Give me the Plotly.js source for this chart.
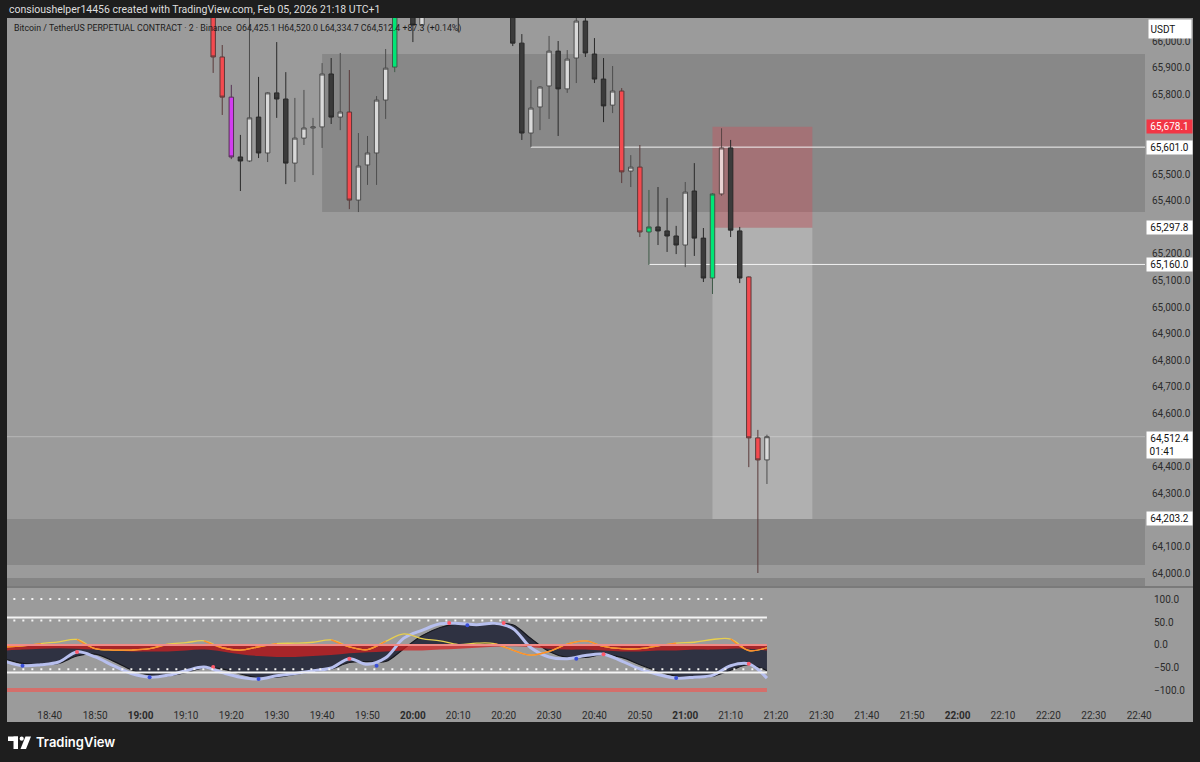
<!DOCTYPE html>
<html><head><meta charset="utf-8">
<script src="https://cdn.plot.ly/plotly-3.0.1.min.js"></script>
<style>html,body{margin:0;padding:0;background:#1e1e1e;}#chart{width:1200px;height:762px;}</style>
</head><body><div id="chart"></div>
<script>
// ---------- DATA ----------
const day = '2026-02-05 ';
const barTimes = ['19:16','19:18','19:20','19:22','19:24','19:26','19:28','19:30','19:32','19:34','19:36','19:38','19:40','19:42','19:44','19:46','19:48','19:50','19:52','19:54','19:56','20:00','20:02','20:10','20:22','20:24','20:26','20:28','20:30','20:32','20:34','20:36','20:38','20:40','20:42','20:44','20:46','20:48','20:50','20:52','20:54','20:56','20:58','21:00','21:02','21:04','21:06','21:08','21:10','21:12','21:14','21:16','21:18'];
const opens  = [66150,65940,65789,65564,65549,65714,65579,65805,65782,65541,65635,65673,65677,65876,65714,65733,65402,65534,65579,65778,65902,66180,66060,66200,66150,65992,65654,65752,65831,65962,65820,65936,66075,65951,65857,65759,65812,65511,65526,65282,65301,65286,65267,65233,65436,65259,65109,65425,65598,65286,65113,64508,64425.1];
const highs  = [66180,65985,65835,65647,66120,65865,65808,65996,65883,65786,65816,65711,65917,65936,65955,65891,65654,65643,65793,65970,66200,66220,66180,66250,66200,66026,65853,65830,66019,66000,65966,66110,66100,66011,65936,65906,65823,65571,65609,65440,65451,65410,65305,65470,65541,65297,65428,65672,65628,65301,65115,64538,64520.0];
const lows   = [65880,65722,65556,65436,65545,65560,65545,65711,65462,65470,65609,65496,65598,65688,65665,65368,65357,65459,65459,65707,65883,65996,66055,66034,65981,65628,65602,65665,65707,65643,65805,65842,65940,65842,65695,65729,65466,65451,65263,65158,65233,65207,65199,65150,65192,65094,65049,65418,65263,65090,64398,64000,64334.7];
const closes = [65940,65789,65564,65549,65711,65579,65805,65782,65541,65635,65673,65677,65876,65714,65733,65402,65530,65579,65778,65898,66160,66060,66150,66150,65992,65654,65748,65827,65962,65820,65932,66075,65955,65857,65756,65812,65508,65526,65282,65301,65286,65267,65233,65432,65259,65109,65425,65598,65289,65109,64508,64425.1,64512.4];
const barColorClass = ['red','red','magenta','dark','light','dark','light','dark','dark','light','light','light','light','dark','light','red','light','light','light','light','green','dark','light','dark','dark','dark','light','light','light','dark','light','light','dark','dark','dark','light','red','light','red','green','dark','dark','dark','light','dark','dark','green','pink','dark','dark','red','red','light'];

const symbolName = 'Bitcoin / TetherUS PERPETUAL CONTRACT · 2 · Binance';
const headerLine = 'consioushelper14456 created with TradingView.com, Feb 05, 2026 21:18 UTC+1';
const currency = 'USDT';
const countdown = '01:41';

// levels
const upperZone = {from:'19:40', low:65357, high:65951};
const lowerZone = {low:64030, high:64203.2};
const bottomZoneTop = 63981;
const stopLevel = 65678.1, entryLevel = 65297.8, targetLevel = 64203.2;
const positionStart = '21:06', positionEnd = '21:28';
const line1 = {from:'20:26', price:65601.0};
const line2 = {from:'20:52', price:65160.0};
const axisLabels = [65601.0, 65297.8, 65160.0, 64203.2];
const priceTicks = [64000,64100,64200,64300,64400,64500,64600,64700,64800,64900,65000,65100,65200,65300,65400,65500,65600,65700,65800,65900,66000];

// oscillator
const oscTimes = ['18:30','18:34','18:38','18:42','18:46','18:50','18:54','18:58','19:02','19:06','19:10','19:14','19:18','19:22','19:26','19:30','19:34','19:38','19:42','19:46','19:50','19:54','19:58','20:02','20:06','20:10','20:14','20:18','20:22','20:26','20:30','20:34','20:38','20:42','20:46','20:50','20:54','20:58','21:02','21:06','21:10','21:14','21:18'];
const wave1 = [-35,-45,-43,-37,-15,-26,-45,-62,-70,-66,-56,-48,-60,-70,-74,-67,-62,-56,-50,-30,-42,-28,15,32,46,47,44,47,36,-6,-26,-30,-23,-20,-35,-52,-64,-72,-70,-66,-45,-41,-72];
const wave2 = [-30,-40,-43,-40,-24,-20,-35,-54,-65,-67,-60,-50,-52,-63,-71,-70,-64,-58,-52,-38,-36,-36,-8,20,38,46,45,46,44,14,-14,-27,-27,-21,-27,-43,-57,-68,-71,-68,-55,-43,-56];
const moneyFlow = [-12,-10,-8,-7,-8,-10,-12,-14,-14,-14,-12,-10,-14,-20,-24,-26,-26,-24,-22,-18,-16,-14,-12,-12,-10,-8,-6,-4,-3,-5,-8,-10,-10,-12,-14,-14,-12,-12,-10,-10,-8,-8,-12];
const signal = [-4,-2,3,7,12,-8,-11,-11,-8,2,5,9,-6,-11,-4,3,4,6,11,-4,-10,8,24,14,9,1,4,3,-11,-22,-14,2,9,-3,-8,-8,-2,4,6,12,13,-12,-6];
const redDotTimes = ['18:46','19:16','19:46','20:08','20:20','20:42','21:14'];
const redDotVals  = [-15,-48,-30,48,48,-20,-41];
const blueDotTimes = ['18:34','19:02','19:26','19:52','20:12','20:36','20:58'];
const blueDotVals  = [-45,-70,-74,-45,43,-30,-72];
const oscLevelsDotted = [100, 53, -53];
const oscLevelsSolid = [60, -60];
const oscBand = -98;

const timeTickLabels = ['18:40','18:50','19:00','19:10','19:20','19:30','19:40','19:50','20:00','20:10','20:20','20:30','20:40','20:50','21:00','21:10','21:20','21:30','21:40','21:50','22:00','22:10','22:20','22:30','22:40'];

// ---------- GEOMETRY HELPERS ----------
const PL=7, PR=1145, PT=18, PB=700;
const px = x => (x-PL)/(PR-PL);
const py = y => (PB-y)/(PB-PT);
const T = s => day + s;
const fmt = v => v.toLocaleString('en-US',{minimumFractionDigits:1,maximumFractionDigits:1});
const FONT = 'Roboto, "Noto Sans", sans-serif';

// ---------- CANDLES ----------
const classStyle = {
  light:  {fill:'#d9d9d9', line:'#4d4d4d'},
  dark:   {fill:'#3b3b3b', line:'#2a2a2a'},
  red:    {fill:'#f44a4f', line:'#5a3a3a'},
  green:  {fill:'#00e676', line:'#3f5a48'},
  magenta:{fill:'#d23df0', line:'#553355'},
  pink:   {fill:'#e9d3d3', line:'#5a4545'}
};
const traces = [];
Object.keys(classStyle).forEach(c => {
  const idx = barColorClass.map((k,i)=>k===c?i:-1).filter(i=>i>=0);
  if (!idx.length) return;
  const st = classStyle[c];
  traces.push({
    type:'candlestick', xaxis:'x', yaxis:'y',
    x: idx.map(i=>T(barTimes[i])),
    open: idx.map(i=>opens[i]), high: idx.map(i=>highs[i]),
    low: idx.map(i=>lows[i]), close: idx.map(i=>closes[i]),
    increasing:{fillcolor:st.fill, line:{color:st.line, width:1}},
    decreasing:{fillcolor:st.fill, line:{color:st.line, width:1}},
    whiskerwidth:0, showlegend:false, hoverinfo:'skip'
  });
});

// ---------- OSCILLATOR ----------
const ox = oscTimes.map(T);
traces.push({type:'scatter', mode:'lines', xaxis:'x', yaxis:'y2', x:ox, y:wave2, fill:'tozeroy',
  fillcolor:'#2f3242', line:{color:'#17181e', width:1.2, shape:'spline'}, showlegend:false, hoverinfo:'skip'});
traces.push({type:'scatter', mode:'lines', xaxis:'x', yaxis:'y2', x:ox, y:moneyFlow, fill:'tozeroy',
  fillcolor:'rgba(214,32,32,0.72)', line:{color:'rgba(0,0,0,0)', width:0, shape:'spline'}, showlegend:false, hoverinfo:'skip'});
traces.push({type:'scatter', mode:'lines', xaxis:'x', yaxis:'y2', x:ox, y:wave1,
  line:{color:'#b7bfee', width:3, shape:'spline'}, showlegend:false, hoverinfo:'skip'});
traces.push({type:'scatter', mode:'lines', xaxis:'x', yaxis:'y2', x:ox, y:signal,
  line:{color:'#e8cf4e', width:1.3, shape:'spline'}, showlegend:false, hoverinfo:'skip'});
const sigNeg = signal.map((v,i)=> (v<0 || (i>0&&signal[i-1]<0) || (i<signal.length-1&&signal[i+1]<0)) ? v : null);
traces.push({type:'scatter', mode:'lines', xaxis:'x', yaxis:'y2', x:ox, y:sigNeg, connectgaps:false,
  line:{color:'#ff8a2a', width:1.3, shape:'spline'}, showlegend:false, hoverinfo:'skip'});
traces.push({type:'scatter', mode:'markers', xaxis:'x', yaxis:'y2', x:redDotTimes.map(T), y:redDotVals,
  marker:{color:'#ff5a6a', size:4}, showlegend:false, hoverinfo:'skip'});
traces.push({type:'scatter', mode:'markers', xaxis:'x', yaxis:'y2', x:blueDotTimes.map(T), y:blueDotVals,
  marker:{color:'#3a4fd8', size:4}, showlegend:false, hoverinfo:'skip'});

// ---------- SHAPES ----------
const farLeft = T('18:00'), farRight = '2026-02-05 23:30';
const oscStart = ox[0], oscEnd = ox[ox.length-1];
const shapes = [
  {type:'rect', xref:'paper', yref:'paper', x0:px(7), x1:px(1193), y0:py(722), y1:py(18), fillcolor:'#9b9b9b', line:{width:0}, layer:'below'},
  {type:'rect', xref:'x', yref:'y', x0:T(upperZone.from), x1:farRight, y0:upperZone.low, y1:upperZone.high, fillcolor:'rgba(0,0,0,0.12)', line:{width:0}, layer:'below'},
  {type:'rect', xref:'x', yref:'y', x0:farLeft, x1:farRight, y0:lowerZone.low, y1:lowerZone.high, fillcolor:'rgba(0,0,0,0.12)', line:{width:0}, layer:'below'},
  {type:'rect', xref:'x', yref:'y', x0:farLeft, x1:farRight, y0:63800, y1:bottomZoneTop, fillcolor:'rgba(0,0,0,0.14)', line:{width:0}, layer:'below'},
  {type:'rect', xref:'x', yref:'y', x0:T(positionStart), x1:T(positionEnd), y0:entryLevel, y1:stopLevel, fillcolor:'rgba(242,54,69,0.26)', line:{width:0}, layer:'below'},
  {type:'rect', xref:'x', yref:'y', x0:T(positionStart), x1:T(positionEnd), y0:targetLevel, y1:entryLevel, fillcolor:'rgba(255,255,255,0.21)', line:{width:0}, layer:'below'},
  {type:'line', xref:'x', yref:'y', x0:T(line1.from), x1:farRight, y0:line1.price, y1:line1.price, line:{color:'#f2f2f2', width:1}, layer:'below'},
  {type:'line', xref:'x', yref:'y', x0:T(line2.from), x1:farRight, y0:line2.price, y1:line2.price, line:{color:'#f2f2f2', width:1}, layer:'below'},
  {type:'line', xref:'x', yref:'y', x0:farLeft, x1:farRight, y0:closes[closes.length-1], y1:closes[closes.length-1], line:{color:'rgba(255,255,255,0.28)', width:1}, layer:'below'},
  {type:'line', xref:'paper', yref:'paper', x0:px(7), x1:px(1193), y0:py(587), y1:py(587), line:{color:'#7a7a7a', width:2}},
  {type:'line', xref:'x', yref:'y2', x0:oscStart, x1:oscEnd, y0:0, y1:0, line:{color:'#f08a86', width:2}},
  {type:'line', xref:'x', yref:'y2', x0:oscStart, x1:oscEnd, y0:oscBand, y1:oscBand, line:{color:'#d46f6b', width:4}}
];
oscLevelsDotted.forEach(v => shapes.push({type:'line', xref:'x', yref:'y2', x0:oscStart, x1:oscEnd, y0:v, y1:v, line:{color:'#f4f4f4', width:2, dash:'2px,7px'}}));
oscLevelsSolid.forEach(v => shapes.push({type:'line', xref:'x', yref:'y2', x0:oscStart, x1:oscEnd, y0:v, y1:v, line:{color:'#f4f4f4', width:2}}));
const W = '#ffffff';
shapes.push({type:'rect', xref:'paper', yref:'paper', x0:px(8), x1:px(18), y0:py(741), y1:py(736.5), fillcolor:W, line:{width:0}});
shapes.push({type:'rect', xref:'paper', yref:'paper', x0:px(13.5), x1:px(18), y0:py(749), y1:py(736.5), fillcolor:W, line:{width:0}});
shapes.push({type:'circle', xref:'paper', yref:'paper', x0:px(19.6), x1:px(23.8), y0:py(740.8), y1:py(736.6), fillcolor:W, line:{width:0}});
shapes.push({type:'path', xref:'paper', yref:'paper', path:`M ${px(25.5)} ${py(736.5)} L ${px(31)} ${py(736.5)} L ${px(26)} ${py(749)} L ${px(20.5)} ${py(749)} Z`, fillcolor:W, line:{width:0}});

// ---------- ANNOTATIONS ----------
const lastI = closes.length-1;
const chg = closes[lastI]-closes[lastI-1];
const pct = chg/closes[lastI-1]*100;
const ohlcText = `O${fmt(opens[lastI])} H${fmt(highs[lastI])} L${fmt(lows[lastI])} C${fmt(closes[lastI])} ${chg>=0?'+':''}${fmt(chg)} (${pct>=0?'+':''}${pct.toFixed(2)}%)`;
const labelPrices = [stopLevel, closes[lastI], ...axisLabels];
const ann = [
  {xref:'paper', yref:'paper', x:px(7), y:py(9), xanchor:'left', yanchor:'middle', showarrow:false, text:headerLine, font:{family:FONT, size:10.5, color:'#dedede'}},
  {xref:'paper', yref:'paper', x:px(12), y:py(28.5), xanchor:'left', yanchor:'middle', showarrow:false, text:symbolName+'\u00a0 '+ohlcText, font:{family:FONT, size:8.8, color:'#1b1b1b'}},
  {xref:'paper', yref:'paper', x:px(1148), y:py(29), xanchor:'left', yanchor:'middle', showarrow:false, text:currency, align:'left', width:39, height:15, borderpad:1.5, bgcolor:'#ffffff', font:{family:FONT, size:10, color:'#131313'}},
  {xref:'paper', yref:'y', x:px(1146), y:stopLevel, xanchor:'left', yanchor:'middle', showarrow:false, text:fmt(stopLevel), align:'center', width:43, borderpad:1, bgcolor:'#f23645', font:{family:FONT, size:10, color:'#ffffff'}},
  {xref:'paper', yref:'y', x:px(1146), y:closes[lastI], yanchor:'top', yshift:6, xanchor:'left', showarrow:false, text:fmt(closes[lastI])+'<br>'+countdown+'\u00a0\u00a0\u00a0\u00a0\u00a0\u00a0', align:'center', width:43, borderpad:1, bgcolor:'#ffffff', font:{family:FONT, size:10, color:'#131313'}},
  {xref:'paper', yref:'paper', x:px(34), y:py(742), xanchor:'left', yanchor:'middle', showarrow:false, text:'TradingView', font:{family:'Inter, Roboto, sans-serif', size:13, color:'#ffffff', weight:600}}
];
axisLabels.forEach(v => ann.push({xref:'paper', yref:'y', x:px(1146), y:v, xanchor:'left', yanchor:'middle', showarrow:false, text:fmt(v), align:'center', width:43, borderpad:1, bgcolor:'#ffffff', font:{family:FONT, size:10, color:'#131313'}}));
// tick labels hidden behind the axis label boxes are left out
const visibleTicks = priceTicks.filter(t => labelPrices.every(p => Math.abs(p-t) > 30));

// ---------- LAYOUT ----------
const layout = {
  width:1200, height:762,
  margin:{l:PL, r:1200-PR, t:PT, b:762-PB, pad:0},
  paper_bgcolor:'#1e1e1e', plot_bgcolor:'rgba(0,0,0,0)',
  showlegend:false, dragmode:false,
  xaxis:{type:'date', anchor:'y2', range:['2026-02-05 18:30:35','2026-02-05 22:41:17'],
    rangeslider:{visible:false}, showgrid:false, zeroline:false, showline:false,
    tickvals: timeTickLabels.map(T),
    ticktext: timeTickLabels.map(s => s.endsWith(':00') ? '<b>'+s+'</b>' : s),
    ticks:'outside', ticklen:6, tickcolor:'rgba(0,0,0,0)',
    tickfont:{family:FONT, size:10, color:'#2b2b2b'}},
  yaxis:{domain:[py(587),1], range:[63947.4,66086.5], side:'right', showgrid:false, zeroline:false, showline:false,
    tickvals:visibleTicks, tickformat:',.1f', ticks:'outside', ticklen:4, tickcolor:'rgba(0,0,0,0)',
    tickfont:{family:FONT, size:10, color:'#2b2b2b'}},
  yaxis2:{domain:[0,py(587)], range:[-119.6,126.1], side:'right', showgrid:false, zeroline:false, showline:false,
    tickvals:[-100,-50,0,50,100], tickformat:'.1f', ticks:'outside', ticklen:6, tickcolor:'rgba(0,0,0,0)',
    tickfont:{family:FONT, size:10, color:'#2b2b2b'}},
  shapes: shapes, annotations: ann
};
Plotly.newPlot('chart', traces, layout, {staticPlot:true, displayModeBar:false});
</script></body></html>
